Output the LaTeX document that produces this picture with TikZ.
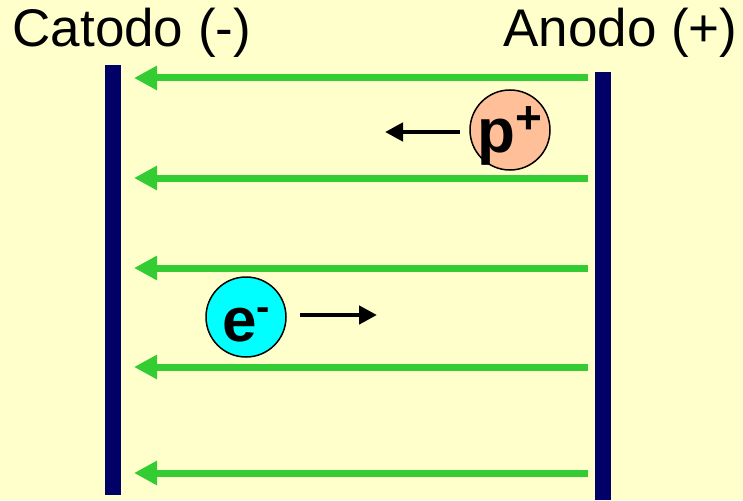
\documentclass[tikz,border=0pt]{standalone}
\usepackage{fontspec}
\setmainfont{Liberation Sans}
\usepackage{tikz}
\usetikzlibrary{arrows.meta,positioning,calc}
\usepackage{xcolor}
\definecolor{fondo}{HTML}{FFFFCC}
\definecolor{verde}{HTML}{33CC33}
\definecolor{blu}{HTML}{000066}
\definecolor{salmone}{HTML}{FFBF99}
\definecolor{ciano}{HTML}{00FFFF}
\newcommand{\apice}[3]{\raisebox{#1}{\fontsize{#2}{#2}\selectfont #3}}
\newcommand{\carica}[2]{\makebox[0pt]{\raisebox{#1}[0pt][0pt]{#2}}}

\begin{document}
\begin{tikzpicture}[x=1pt,y=-1pt,>=Stealth,
  placca/.style={fill=blu,draw=none,inner sep=0pt,minimum width=16pt},
  campo/.style={draw=verde,line width=7pt,-{Triangle[length=23pt,width=23pt]}},
  moto/.style={line width=4.5pt,-{Triangle[length=18pt,width=18pt]}},
  particella/.style={circle,draw,line width=1.5pt,minimum size=80pt,inner sep=0pt,
    font=\fontsize{62}{62}\selectfont\bfseries},
  etichetta/.style={anchor=base,font=\fontsize{53}{53}\selectfont}]
  \fill[fondo] (0,0) rectangle (743,500);
  \useasboundingbox (0,0) rectangle (743,500);
  % piastre
  \node[placca,minimum height=430pt] (catodo) at (113,280) {};
  \node[placca,minimum height=428pt] (anodo) at (603,286) {};
  \node[etichetta,anchor=base west] (tcatodo) at (9,47) {Catodo (-)};
  \node[etichetta,anchor=base east] (tanodo) at (741,47) {Anodo (+)};
  % linee di campo
  \coordinate (a1) at (588,78);  \coordinate (c1) at (134,78);
  \coordinate (a2) at (588,178); \coordinate (c2) at (134,178);
  \coordinate (a3) at (588,268); \coordinate (c3) at (134,268);
  \coordinate (a4) at (588,367); \coordinate (c4) at (134,367);
  \coordinate (a5) at (588,473); \coordinate (c5) at (134,473);
  \draw[campo] (a1) -- (c1);
  \draw[campo] (a2) -- (c2);
  \draw[campo] (a3) -- (c3);
  \draw[campo] (a4) -- (c4);
  \draw[campo] (a5) -- (c5);
  % particelle
  \node[particella,fill=salmone] (protone) at (510,130)
    {\carica{-22pt}{p\apice{18.5pt}{46}{+}}};
  \node[particella,fill=ciano] (elettrone) at (246,317)
    {\carica{-24pt}{e\apice{21pt}{40}{-}}};
  \coordinate (p0) at (460,132); \coordinate (p1) at (385,132);
  \coordinate (e0) at (300,315); \coordinate (e1) at (377,315);
  \draw[moto] (p0) -- (p1);
  \draw[moto] (e0) -- (e1);
\end{tikzpicture}
\end{document}
